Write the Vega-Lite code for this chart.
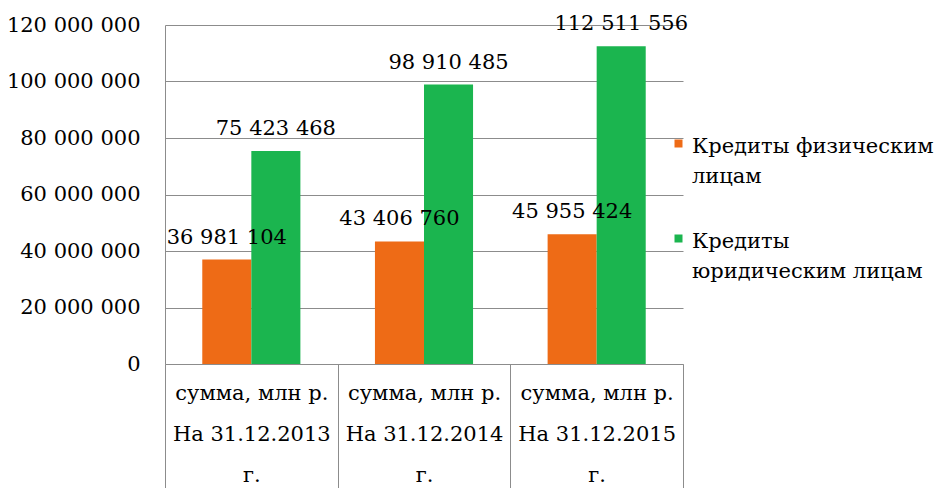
{
  "$schema": "https://vega.github.io/schema/vega-lite/v6.json",
  "width": 518,
  "height": 339,
  "autosize": "none",
  "padding": {"left": 165, "top": 25, "right": 259, "bottom": 124},
  "background": "white",
  "config": {
    "locale": {"number": {"decimal": ",", "thousands": " ", "grouping": [3], "currency": ["", ""]}},
    "font": "DejaVu Serif",
    "view": {"stroke": null},
    "style": {"guide-label": {"lineHeight": 30, "font": "DejaVu Serif"}}
  },
  "data": {
    "values": [
      {"period": "На 31.12.2013 г.", "series": "Кредиты физическим лицам", "value": 36981104},
      {"period": "На 31.12.2013 г.", "series": "Кредиты юридическим лицам", "value": 75423468},
      {"period": "На 31.12.2014 г.", "series": "Кредиты физическим лицам", "value": 43406760},
      {"period": "На 31.12.2014 г.", "series": "Кредиты юридическим лицам", "value": 98910485},
      {"period": "На 31.12.2015 г.", "series": "Кредиты физическим лицам", "value": 45955424},
      {"period": "На 31.12.2015 г.", "series": "Кредиты юридическим лицам", "value": 112511556}
    ]
  },
  "encoding": {
    "x": {
      "field": "period",
      "type": "nominal",
      "sort": null,
      "scale": {"paddingInner": 0, "paddingOuter": 0},
      "axis": {
        "title": null,
        "labelAngle": 0,
        "labelFont": "DejaVu Serif",
        "labelFontSize": 21,
        "labelColor": "black",
        "labelLineHeight": 41,
        "labelExpr": "datum.label ? ['сумма,  млн р.', slice(datum.label, 0, 13), 'г.'] : ''",
        "labelPadding": -106,
        "labelBaseline": "top",
        "labelAlign": "center",
        "labelFlush": false,
        "labelOverlap": false,
        "labelBound": false,
        "tickBand": "extent",
        "tickSize": 124,
        "tickColor": "#8c8c8c",
        "domainColor": "#8c8c8c",
        "grid": false
      }
    },
    "xOffset": {
      "field": "series",
      "sort": ["Кредиты физическим лицам", "Кредиты юридическим лицам"],
      "scale": {"paddingInner": 0, "paddingOuter": 0.76}
    },
    "y": {
      "field": "value",
      "type": "quantitative",
      "scale": {"domain": [0, 120000000], "nice": false},
      "axis": {
        "title": null,
        "values": [0, 20000000, 40000000, 60000000, 80000000, 100000000, 120000000],
        "format": ",d",
        "labelFont": "DejaVu Serif",
        "labelFontSize": 21,
        "labelColor": "black",
        "ticks": false,
        "labelPadding": 25,
        "domainColor": "#8c8c8c",
        "gridColor": "#8c8c8c",
        "gridOpacity": 1
      }
    }
  },
  "layer": [
    {
      "mark": {"type": "bar"},
      "encoding": {
        "color": {
          "field": "series",
          "type": "nominal",
          "scale": {"domain": ["Кредиты физическим лицам", "Кредиты юридическим лицам"], "range": ["#ee6b16", "#1bb54f"]},
          "legend": {
            "title": null,
            "orient": "none",
            "legendX": 503,
            "legendY": 100,
            "labelFont": "DejaVu Serif",
            "labelFontSize": 21,
            "labelColor": "black",
            "labelLimit": 400,
            "labelBaseline": "top",
            "labelOffset": 3,
            "symbolType": "M-1,1H1V3H-1Z",
            "symbolSize": 64,
            "symbolStrokeWidth": 0,
            "rowPadding": 33,
            "labelExpr": "datum.label == 'Кредиты физическим лицам' ? ['Кредиты физическим', 'лицам'] : ['Кредиты', 'юридическим  лицам']"
          }
        }
      }
    },
    {
      "mark": {"type": "text", "baseline": "bottom", "dy": -12, "fontSize": 21, "font": "DejaVu Serif", "color": "black"},
      "encoding": {
        "text": {"field": "value", "type": "quantitative", "format": ",d"}
      }
    }
  ]
}
